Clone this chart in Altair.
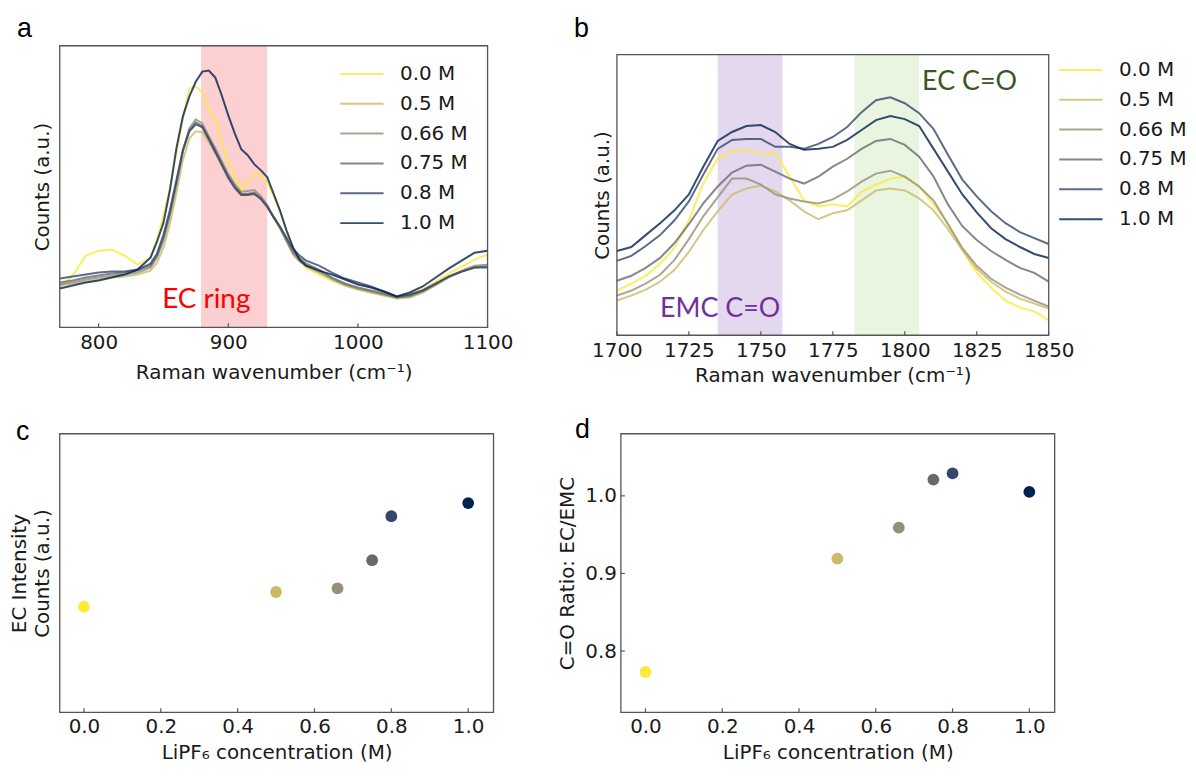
import altair as alt
import pandas as pd

FONT = "DejaVu Sans"
ANN_FONT = "Lato"
LETTER_FONT = "Liberation Sans"
INK = "#1a1a1a"
FRAME = "#555555"

SERIES = ["0.0 M", "0.5 M", "0.66 M", "0.75 M", "0.8 M", "1.0 M"]
CONC = [0.0, 0.5, 0.66, 0.75, 0.8, 1.0]
COLORS = ["#fee838", "#cbba69", "#958f78", "#666970", "#35456c", "#00224e"]

# ---------------- panel a: EC ring region ----------------
XA = [770, 780, 790, 800, 810, 820, 830, 840, 845, 850, 855, 860, 865, 870, 875,
      880, 885, 890, 895, 900, 905, 910, 915, 920, 925, 930, 935, 940, 945, 950,
      955, 960, 970, 980, 990, 1000, 1010, 1020, 1030, 1040, 1050, 1060, 1070,
      1080, 1090, 1100]
A_00 = [40, 52, 72, 77, 78, 72, 63, 70, 88, 112, 140, 175, 210, 240, 242,
        236, 218, 208, 185, 166, 152, 139, 147, 155, 153, 145, 132, 116, 97, 80,
        68, 60, 53, 47, 42, 38, 35, 32, 30, 33, 38, 46, 54, 61, 68, 73]
A_05 = [42, 44, 46, 48, 50, 51, 53, 57, 65, 80, 104, 135, 168, 190, 197,
        196, 186, 175, 163, 151, 141, 133, 134, 136, 131, 122, 110, 99, 86, 73,
        66, 61, 55, 48, 42, 38, 35, 32, 29, 30, 35, 42, 50, 56, 61, 63]
A_066 = [43, 45, 48, 50, 52, 53, 55, 60, 70, 87, 112, 143, 177, 200, 209,
         205, 192, 180, 167, 154, 144, 136, 137, 138, 132, 123, 111, 100, 87, 74,
         67, 62, 56, 49, 43, 39, 36, 33, 30, 31, 36, 43, 51, 57, 62, 63]
A_075 = [45, 47, 50, 52, 54, 55, 57, 62, 72, 90, 115, 145, 178, 198, 206,
         202, 190, 178, 165, 152, 142, 134, 134, 135, 130, 122, 110, 100, 88, 76,
         69, 64, 58, 50, 44, 40, 37, 34, 30, 32, 37, 44, 51, 56, 60, 61]
A_08 = [49, 51, 53, 55, 56, 56, 58, 64, 74, 93, 118, 148, 178, 197, 204,
        201, 189, 176, 163, 150, 140, 133, 133, 134, 129, 121, 111, 101, 90, 79,
        72, 67, 62, 55, 49, 45, 41, 36, 31, 33, 37, 44, 51, 56, 60, 60]
A_10 = [39, 42, 45, 47, 50, 53, 58, 70, 86, 105, 138, 180, 212, 232, 247,
        257, 258, 251, 233, 213, 195, 179, 173, 164, 158, 151, 134, 117, 97, 80,
        68, 62, 57, 53, 48, 43, 40, 36, 31, 35, 41, 50, 59, 67, 75, 77]
A_BAND = [879, 930]
A_TICKS = [800, 900, 1000, 1100]

# ---------------- panel b: C=O region ----------------
XB = [1700, 1705, 1710, 1715, 1720, 1725, 1730, 1735, 1740, 1745, 1750, 1755,
      1760, 1765, 1770, 1775, 1780, 1785, 1790, 1795, 1800, 1805, 1810, 1815,
      1820, 1825, 1830, 1835, 1840, 1845, 1850]
B_00 = [45, 52, 60, 72, 88, 116, 153, 178, 186, 187, 182, 184, 160, 136, 130,
        132, 130, 145, 152, 158, 160, 150, 132, 113, 86, 63, 48, 35, 28, 24, 15]
B_05 = [35, 40, 46, 54, 66, 84, 106, 125, 142, 148, 151, 145, 136, 125, 117,
        123, 126, 136, 146, 148, 146, 138, 126, 107, 86, 67, 54, 44, 37, 32, 27]
B_066 = [40, 45, 52, 61, 76, 97, 120, 139, 158, 158, 152, 142, 138, 135, 133,
         137, 145, 155, 163, 166, 160, 150, 136, 112, 88, 70, 57, 48, 41, 35, 29]
B_075 = [55, 60, 68, 78, 93, 112, 133, 150, 164, 171, 172, 165, 158, 153, 160,
         170, 178, 188, 196, 198, 192, 180, 160, 132, 110, 96, 85, 76, 68, 63, 54]
B_08 = [75, 80, 90, 101, 116, 135, 162, 188, 197, 198, 198, 190, 190, 188, 193,
        200, 210, 225, 237, 240, 234, 224, 208, 182, 157, 140, 125, 113, 104, 98, 92]
B_10 = [85, 89, 101, 113, 126, 142, 170, 196, 205, 211, 212, 205, 193, 187, 188,
        190, 197, 207, 217, 221, 218, 211, 188, 165, 142, 124, 108, 97, 89, 82, 78]
B_BAND_EMC = [1735, 1757.5]
B_BAND_EC = [1782.5, 1805]
B_TICKS = [1700, 1725, 1750, 1775, 1800, 1825, 1850]

# ---------------- panels c, d ----------------
EC_INTENSITY = [0.379, 0.432, 0.445, 0.546, 0.704, 0.751]
CO_RATIO = [0.773, 0.919, 0.959, 1.021, 1.029, 1.005]
C_TICKS = [0.0, 0.2, 0.4, 0.6, 0.8, 1.0]
D_YTICKS = [0.8, 0.9, 1.0]

# frame/axis geometry
A_W, A_H = 430, 283
B_W, B_H = 434, 291
C_W, C_H = 436, 280
D_W, D_H = 436, 280
A_XD, A_YD = [770, 1100], [0, 283]
B_XD, B_YD = [1700, 1850], [0, 292]
B_FRAME_TOP = 283
C_XD, C_YD = [-0.063, 1.066], [0, 1]
D_XD, D_YD = [-0.064, 1.066], [0.721, 1.080]


def long_df(xs, lists):
    rows = []
    for lab, ys in zip(SERIES, lists):
        for x, y in zip(xs, ys):
            rows.append({"x": x, "y": y, "series": lab})
    return pd.DataFrame(rows)


color_scale = alt.Scale(domain=SERIES, range=COLORS)
ONE = pd.DataFrame({"k": [0]})


def frame(xd, yd, X, Y):
    df = pd.DataFrame({"x": [xd[0]], "x2": [xd[1]], "y": [yd[0]], "y2": [yd[1]]})
    return alt.Chart(df).mark_rect(fill="white", fillOpacity=0, stroke=FRAME,
                                   strokeWidth=1.3).encode(
        x=X(), x2="x2:Q", y=Y(), y2="y2:Q")


def band(lo_hi, yd, color, X, Y):
    df = pd.DataFrame({"x": [lo_hi[0]], "x2": [lo_hi[1]], "y": [yd[0]], "y2": [yd[1]]})
    return alt.Chart(df).mark_rect(color=color, opacity=1).encode(
        x=X(), x2="x2:Q", y=Y(), y2="y2:Q")


def xticks(values, X, h):
    df = pd.DataFrame({"x": values})
    return alt.Chart(df).mark_rule(color=FRAME, strokeWidth=1.2).encode(
        x=X(), y=alt.value(h), y2=alt.value(h - 4))


def label(txt, dx, dy):
    df = pd.DataFrame({"t": [txt]})
    return alt.Chart(df).mark_text(font=LETTER_FONT, fontSize=27, align="left",
                                   baseline="alphabetic", color="black").encode(
        text="t:N", x=alt.value(dx), y=alt.value(dy))


def guard(x1, x2, y1, y2):
    # invisible layout guard that fixes the extent reserved around a panel
    return alt.Chart(ONE).mark_rule(opacity=0, strokeWidth=1).encode(
        x=alt.value(x1), x2=alt.value(x2), y=alt.value(y1), y2=alt.value(y2))


def annot(txt, x, y, color, size, X, Y):
    df = pd.DataFrame({"x": [x], "y": [y], "t": [txt]})
    return alt.Chart(df).mark_text(font=ANN_FONT, fontSize=size, align="left",
                                   baseline="alphabetic", color=color).encode(
        x=X(), y=Y(), text="t:N")


TITLE_RAMAN = "Raman wavenumber (cm\u207b\u00b9)"
TITLE_LIPF = "LiPF\u2086 concentration (M)"


def legend(lx, ly):
    return alt.Legend(title=None, orient="none", legendX=lx, legendY=ly,
                      direction="vertical", symbolType="M-3,0L3,0",
                      symbolSize=210, symbolStrokeWidth=2, symbolOpacity=0.8,
                      labelFont=FONT, labelFontSize=20, labelColor=INK,
                      labelOffset=28.3, rowPadding=10, padding=0)


# ---------- panel a ----------
XA_ENC = lambda: alt.X("x:Q", scale=alt.Scale(domain=A_XD, nice=False, zero=False),
                       axis=alt.Axis(values=A_TICKS, format="d", title=TITLE_RAMAN,
                                     labelPadding=5, titlePadding=10,
                                     labelFlush=False, labelOverlap=False))
YA_ENC = lambda: alt.Y("y:Q", scale=alt.Scale(domain=A_YD, nice=False, zero=False),
                       axis=alt.Axis(labels=False, title="Counts (a.u.)", titlePadding=7))

lines_a = alt.Chart(long_df(XA, [A_00, A_05, A_066, A_075, A_08, A_10])).mark_line(
    strokeWidth=2, opacity=0.8).encode(
    x=XA_ENC(), y=YA_ENC(),
    color=alt.Color("series:N", scale=color_scale, sort=SERIES, legend=legend(293.7, 18.3)),
    order=alt.Order("x:Q"))

panel_a = alt.layer(
    band(A_BAND, A_YD, "#fcd0d0", XA_ENC, YA_ENC),
    lines_a,
    frame(A_XD, A_YD, XA_ENC, YA_ENC),
    xticks(A_TICKS, XA_ENC, A_H),
    annot("EC ring", 849, 19, "#ff0000", 28, XA_ENC, YA_ENC),
    label("a", -43, -9),
    guard(0, 470, -36, -36),
).properties(width=A_W, height=A_H)

# ---------- panel b ----------
XB_ENC = lambda: alt.X("x:Q", scale=alt.Scale(domain=B_XD, nice=False, zero=False),
                       axis=alt.Axis(values=B_TICKS, format="d", title=TITLE_RAMAN,
                                     labelPadding=5.5, titlePadding=5,
                                     labelFlush=False, labelOverlap=False))
YB_ENC = lambda: alt.Y("y:Q", scale=alt.Scale(domain=B_YD, nice=False, zero=False),
                       axis=alt.Axis(labels=False, title="Counts (a.u.)", titlePadding=4,
                                     titleY=150))

lines_b = alt.Chart(long_df(XB, [B_00, B_05, B_066, B_075, B_08, B_10])).mark_line(
    strokeWidth=2, opacity=0.8).encode(
    x=XB_ENC(), y=YB_ENC(),
    color=alt.Color("series:N", scale=color_scale, sort=SERIES, legend=legend(456.3, 14.3)),
    order=alt.Order("x:Q"))

panel_b = alt.layer(
    band(B_BAND_EMC, [0, B_FRAME_TOP], "#e4d8ee", XB_ENC, YB_ENC),
    band(B_BAND_EC, [0, B_FRAME_TOP], "#eaf5e0", XB_ENC, YB_ENC),
    lines_b,
    frame(B_XD, [0, B_FRAME_TOP], XB_ENC, YB_ENC),
    xticks(B_TICKS, XB_ENC, B_H),
    annot("EMC C=O", 1715, 18.4, "#7030a0", 27, XB_ENC, YB_ENC),
    annot("EC C=O", 1806, 247.5, "#385723", 27, XB_ENC, YB_ENC),
    label("b", -43, -9),
    guard(-50, 0, 350, 350),
).properties(width=B_W, height=B_H)

# ---------- panel c ----------
pts = pd.DataFrame({"x": CONC, "yc": EC_INTENSITY, "yd": CO_RATIO,
                    "series": SERIES, "col": COLORS})

XC_ENC = lambda: alt.X("x:Q", scale=alt.Scale(domain=C_XD, nice=False, zero=False),
                       axis=alt.Axis(values=C_TICKS, format=".1f", title=TITLE_LIPF,
                                     labelPadding=4, titlePadding=6,
                                     labelFlush=False, labelOverlap=False))
YC_ENC = lambda: alt.Y("y:Q", scale=alt.Scale(domain=C_YD, nice=False, zero=False),
                       axis=alt.Axis(labels=False, title=["EC Intensity", "Counts (a.u.)"],
                                     titleLineHeight=23, titlePadding=7))

pts_c = alt.Chart(pts).transform_calculate(y="datum.yc").mark_circle(
    size=140, opacity=1).encode(
    x=XC_ENC(), y=YC_ENC(), color=alt.Color("col:N", scale=None))

panel_c = alt.layer(
    pts_c,
    frame(C_XD, C_YD, XC_ENC, YC_ENC),
    xticks(C_TICKS, XC_ENC, C_H),
    label("c", -44, 6),
    guard(-51.5, 450, -20, -20),
).properties(width=C_W, height=C_H)

# ---------- panel d ----------
XD_ENC = lambda: alt.X("x:Q", scale=alt.Scale(domain=D_XD, nice=False, zero=False),
                       axis=alt.Axis(values=C_TICKS, format=".1f", title=TITLE_LIPF,
                                     labelPadding=4, titlePadding=6,
                                     labelFlush=False, labelOverlap=False))
YD_ENC = lambda: alt.Y("y:Q", scale=alt.Scale(domain=D_YD, nice=False, zero=False),
                       axis=alt.Axis(values=D_YTICKS, format=".1f", title="C=O Ratio: EC/EMC",
                                     labelPadding=4.5, titlePadding=7,
                                     labelFlush=False, labelOverlap=False))

pts_d = alt.Chart(pts).transform_calculate(y="datum.yd").mark_circle(
    size=140, opacity=1).encode(
    x=XD_ENC(), y=YD_ENC(), color=alt.Color("col:N", scale=None))

yt = alt.Chart(pd.DataFrame({"y": D_YTICKS})).mark_rule(color=FRAME, strokeWidth=1.2).encode(
    y=YD_ENC(), x=alt.value(0), x2=alt.value(4))

panel_d = alt.layer(
    pts_d,
    frame(D_XD, D_YD, XD_ENC, YD_ENC),
    xticks(C_TICKS, XD_ENC, D_H),
    yt,
    label("d", -46, 4),
    guard(-75, 0, -20, -20),
).properties(width=D_W, height=D_H)

top = alt.hconcat(panel_a, panel_b, spacing=40).resolve_scale(
    color="independent").resolve_legend(color="independent")
bottom = alt.hconcat(panel_c, panel_d, spacing=39)

chart = alt.vconcat(top, bottom, spacing=20).resolve_scale(
    color="independent").resolve_legend(color="independent").properties(
    padding={"left": 0, "top": 0, "right": 0, "bottom": 0},
    background="white"
).configure_view(strokeWidth=0).configure_axis(
    labelFont=FONT, titleFont=FONT, labelFontSize=20, titleFontSize=20,
    titleFontWeight="normal", labelColor=INK, titleColor=INK,
    grid=False, domain=False, ticks=False, tickSize=0
)

chart.save("out.html", embed_options={"renderer": "svg", "actions": False})
